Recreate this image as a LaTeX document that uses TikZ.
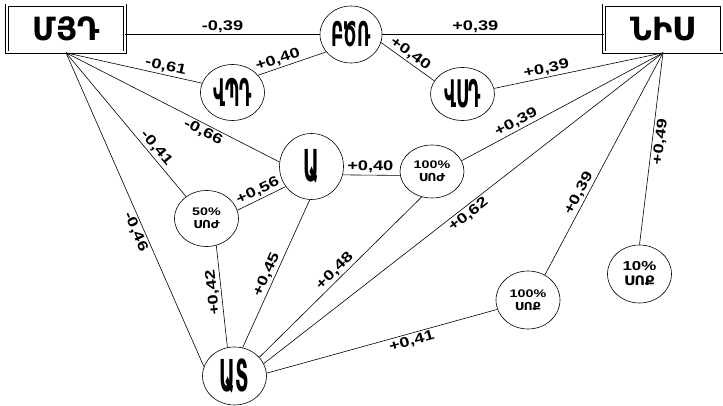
\documentclass[tikz,border=0pt]{standalone}
\usepackage{fontspec}
\setmainfont{Liberation Sans}
\newfontfamily\numfont[FakeStretch=1.3]{Liberation Sans}
\newfontfamily\armfont[FakeStretch=1.1]{DejaVu Sans}
\newfontfamily\armbox[FakeStretch=0.95]{DejaVu Sans}
\newfontfamily\armnarrow[FakeStretch=0.5]{DejaVu Sans}
\newfontfamily\armslim[FakeStretch=0.44]{DejaVu Sans}
\usetikzlibrary{shapes.geometric}

\begin{document}
\begin{tikzpicture}[x=1pt,y=-1pt,line width=0.6pt]
\tikzstyle{every node}+=[inner sep=0pt]
\tikzstyle{scalebox}=[draw, double, double distance=2pt, minimum width=118pt, minimum height=47pt, font=\armbox\bfseries\fontsize{32}{32}\selectfont]
\tikzstyle{factor}=[draw, ellipse, minimum width=64pt, minimum height=56pt, align=center]
\tikzstyle{bigtag}=[font=\armnarrow\bfseries\fontsize{34}{34}\selectfont]
\tikzstyle{talltag}=[font=\armslim\bfseries\fontsize{38}{38}\selectfont]
\tikzstyle{hugetag}=[font=\armslim\bfseries\fontsize{44}{44}\selectfont]
\tikzstyle{smalltag}=[font=\numfont\bfseries\fontsize{11}{13}\selectfont]
\tikzstyle{coef}=[font=\numfont\bfseries\fontsize{14}{14}\selectfont, sloped, inner sep=2pt]
\useasboundingbox (0,0) rectangle (723,406);
\node [scalebox] (mjd) at (66,29) {ՄՅԴ};
\node [scalebox] (nis) at (663,29) {ՆԻՍ};
\node [factor, bigtag, minimum width=62pt, minimum height=57pt] (bco) at (351,34.5) {ԲԾՌ};
\node [factor, talltag] (vpd) at (232.5,92.5) {ՎՊԴ};
\node [factor, talltag, minimum height=53pt] (vsd) at (462.5,94) {ՎՍԴ};
\node [factor, hugetag, minimum height=66pt] (a) at (311.5,166.5) {Ա};
\node [factor, smalltag, minimum height=53pt] (sod100) at (432,171.5) {100\%\\{\armfont ՍՈԺ}};
\node [factor, smalltag] (sod50) at (206.5,218.5) {50\%\\{\armfont ՍՈԺ}};
\node [factor, smalltag, font=\numfont\bfseries\fontsize{13}{15}\selectfont, minimum height=58pt] (soq10) at (639.5,274) {10\%\\{\armfont ՍՈՔ}};
\node [factor, smalltag, minimum height=58pt] (soq100) at (528,300) {100\%\\{\armfont ՍՈՔ}};
\node [factor, hugetag, minimum height=58pt] (at) at (234.5,376) {ԱՏ};
\draw [black] (mjd.east |- bco.west) -- (bco.west) node [coef, above, pos=0.5] {-0,39};
\draw [black] (bco.east) -- (bco.east -| nis.west) node [coef, above, pos=0.42] {+0,39};
\draw [black] (mjd.south) -- (vpd.163) node [coef, above, pos=0.72] {-0,61};
\draw [black] (vpd.34) -- (bco.215) node [coef, above, pos=0.33] {+0,40};
\draw [black] (bco.345) -- (vsd.155) node [coef, above, pos=0.46] {+0,40};
\draw [black] (vsd.10) -- (nis.south) node [coef, above, pos=0.32] {+0,39};
\draw [black] (mjd.south) -- (a.172) node [coef, below, pos=0.66] {-0,66};
\draw [black] (mjd.south) -- (sod50.133) node [coef, above, pos=0.7] {-0,41};
\draw [black] (mjd.south) -- (at.163) node [coef, below, pos=0.56] {-0,46};
\draw [black] (sod50.15) -- (a.218) node [coef, above, pos=0.5] {+0,56};
\draw [black] (a.-15) -- (sod100.187) node [coef, above, pos=0.48] {+0,40};
\draw [black] (at.104) -- (sod50.290) node [coef, above, allow upside down, pos=0.55] {+0,42};
\draw [black] (at.74) -- (a.267) node [coef, above, pos=0.47] {+0,45};
\draw [black] (at.37) -- (sod100.248) node [coef, above, pos=0.5] {+0,48};
\draw [black] (at.23) -- (nis.south) node [coef, below, pos=0.5] {+0,62};
\draw [black] (at.5) -- (soq100.197) node [coef, below, pos=0.62] {+0,41};
\draw [black] (sod100.20) -- (nis.south) node [coef, above, pos=0.29] {+0,39};
\draw [black] (soq100.56) -- (nis.south) node [coef, above, pos=0.35] {+0,39};
\draw [black] (soq10.north) -- (nis.south) node [coef, below, pos=0.54] {+0,49};
\end{tikzpicture}
\end{document}
